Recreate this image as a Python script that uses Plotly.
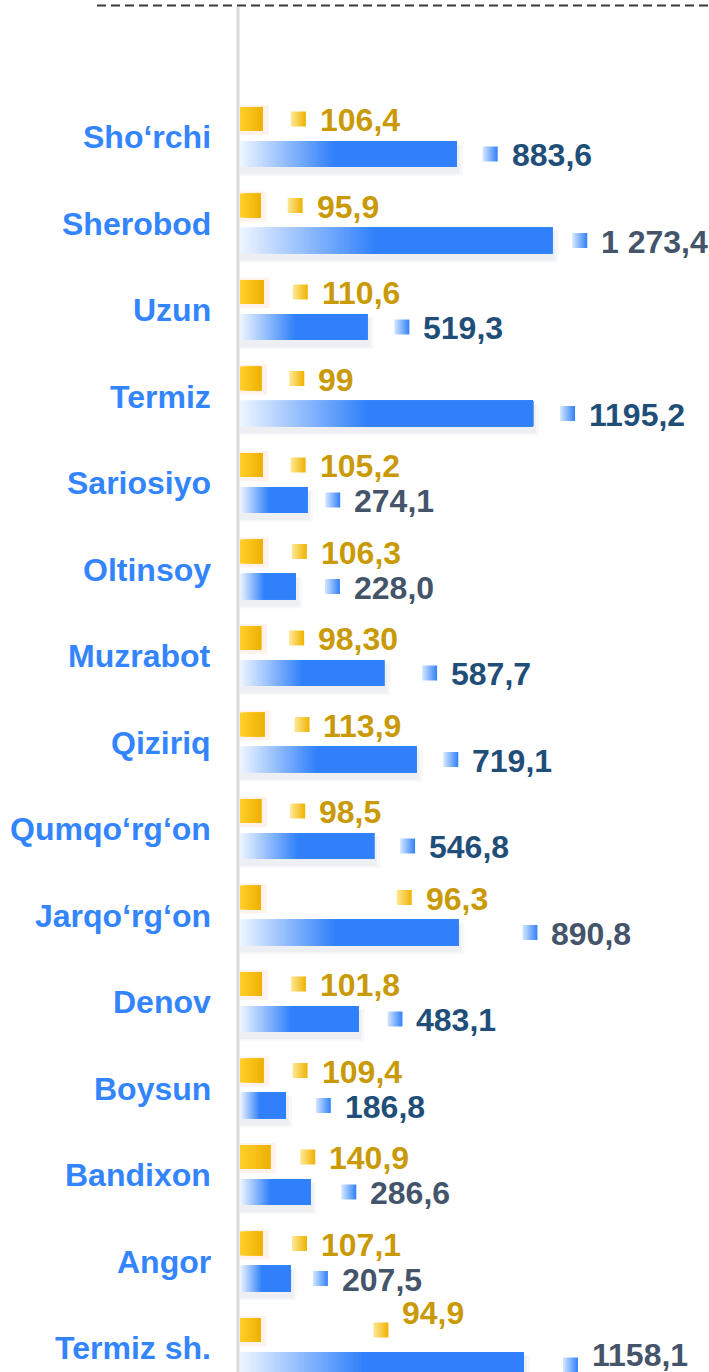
import plotly.graph_objects as go

# ---------------- data ----------------
districts = ["Sho‘rchi", "Sherobod", "Uzun", "Termiz", "Sariosiyo", "Oltinsoy",
             "Muzrabot", "Qiziriq", "Qumqo‘rg‘on", "Jarqo‘rg‘on", "Denov",
             "Boysun", "Bandixon", "Angor", "Termiz sh."]
volume = [883.6, 1273.4, 519.3, 1195.2, 274.1, 228.0, 587.7, 719.1, 546.8,
          890.8, 483.1, 186.8, 286.6, 207.5, 1158.1]
volume_labels = ["883,6", "1 273,4", "519,3", "1195,2", "274,1", "228,0", "587,7",
                 "719,1", "546,8", "890,8", "483,1", "186,8", "286,6", "207,5", "1158,1"]
growth = [106.4, 95.9, 110.6, 99, 105.2, 106.3, 98.30, 113.9, 98.5, 96.3,
          101.8, 109.4, 140.9, 107.1, 94.9]
growth_labels = ["106,4", "95,9", "110,6", "99", "105,2", "106,3", "98,30", "113,9",
                 "98,5", "96,3", "101,8", "109,4", "140,9", "107,1", "94,9"]

# ---------------- layout / style ----------------
W, H = 709, 1372
L = 238
PW = W - L
ROW = 86.5          # px per category
Y0 = 137            # px of first category centre
BLUE_SCALE = 0.2452  # px per unit (volume axis)
YEL_SCALE = 0.215    # px per unit (growth axis)
ZERO = 2             # px from plot left to zero

# label placement nudges (pixels from bar end to legend-key)
blue_gap = [26, 20, 27, 27, 18, 29, 38, 27, 26, 64, 29, 30, 31, 22, 39]
yel_gap = [28, 27, 29, 28, 28, 29, 28, 30, 29, 136, 29, 29, 30, 29, 113]
blue_dy = [0] * 14 + [11]
yel_dy = [0] * 14 + [18]
NAVY, SLATE = "#1F4E79", "#44546A"
blue_label_color = [NAVY, SLATE, NAVY, NAVY, SLATE, SLATE, NAVY, NAVY, NAVY,
                    SLATE, NAVY, NAVY, SLATE, SLATE, SLATE]
CAT_COLOR = "#3385FF"
GOLD = "#C99A06"
FONT = "Liberation Sans, Arial, sans-serif"
FS = 32

yi = list(range(len(districts)))
xr_blue = [-ZERO / BLUE_SCALE, (PW - ZERO) / BLUE_SCALE]
xr_yel = [-ZERO / YEL_SCALE, (PW - ZERO) / YEL_SCALE]

Y_OFF, Y_W = -30 / ROW, 24 / ROW
B_OFF, B_W = 4 / ROW, 26 / ROW


def lerp(c0, c1, t):
    return "rgb(%d,%d,%d)" % tuple(round(a + (b - a) * t) for a, b in zip(c0, c1))


fig = go.Figure()


def gradient_bars(values, xaxis, offset, width, c0, c1, frac, n):
    for k in range(n + 1):
        t = k / n
        base = [v * frac * t for v in values]
        fig.add_trace(go.Bar(
            y=yi, x=[v - b for v, b in zip(values, base)], base=base,
            orientation="h", xaxis=xaxis, offset=offset, width=width,
            marker=dict(color=lerp(c0, c1, t), line=dict(width=0)),
            showlegend=False, hoverinfo="skip"))


# shadows / glow
fig.add_trace(go.Bar(y=yi, x=[v + 6 / BLUE_SCALE for v in volume], orientation="h",
                     offset=B_OFF + 3 / ROW, width=B_W + 6 / ROW,
                     marker=dict(color="rgba(90,110,140,0.05)", line=dict(width=0)),
                     showlegend=False, hoverinfo="skip"))
fig.add_trace(go.Bar(y=yi, x=[v + 3 / BLUE_SCALE for v in volume], orientation="h",
                     offset=B_OFF + 4 / ROW, width=B_W + 3 / ROW,
                     marker=dict(color="rgba(90,110,140,0.06)", line=dict(width=0)),
                     showlegend=False, hoverinfo="skip"))
fig.add_trace(go.Bar(y=yi, x=[v + 6 / YEL_SCALE for v in growth], orientation="h",
                     xaxis="x2", offset=Y_OFF - 2 / ROW, width=Y_W + 6 / ROW,
                     marker=dict(color="rgba(255,130,80,0.10)", line=dict(width=0)),
                     showlegend=False, hoverinfo="skip"))

gradient_bars(volume, "x", B_OFF, B_W, (236, 244, 255), (47, 128, 250), 0.43, 40)
gradient_bars(growth, "x2", Y_OFF, Y_W, (255, 206, 40), (236, 174, 0), 1.0, 8)

# legend-key squares next to labels
fig.add_trace(go.Scatter(
    y=[i + B_OFF + B_W / 2 for i in yi],
    x=[v + (g + 7.5) / BLUE_SCALE for v, g in zip(volume, blue_gap)],
    mode="markers", xaxis="x",
    marker=dict(symbol="square", size=15, color="rgb(215,232,255)",
                gradient=dict(type="horizontal", color="rgb(47,128,250)"),
                line=dict(width=0)),
    showlegend=False, hoverinfo="skip"))
fig.add_trace(go.Scatter(
    y=[i + Y_OFF + Y_W / 2 for i in yi],
    x=[v + (g + 7.5) / YEL_SCALE for v, g in zip(growth, yel_gap)],
    mode="markers", xaxis="x2",
    marker=dict(symbol="square", size=15, color="rgb(255,232,150)",
                gradient=dict(type="horizontal", color="rgb(240,178,0)"),
                line=dict(width=0)),
    showlegend=False, hoverinfo="skip"))

ann = []
for i in yi:
    ann.append(dict(x=-25 / PW, xref="paper", y=i, yref="y", text=districts[i],
                    xanchor="right", yanchor="middle", showarrow=False,
                    font=dict(family=FONT, size=FS, color=CAT_COLOR, weight="bold")))
    ann.append(dict(x=volume[i], xref="x", y=i + B_OFF + B_W / 2, yref="y",
                    text=volume_labels[i], xanchor="left", yanchor="middle",
                    xshift=blue_gap[i] + 27, yshift=-1 + blue_dy[i], showarrow=False,
                    font=dict(family=FONT, size=FS, color=blue_label_color[i], weight="bold")))
    ann.append(dict(x=growth[i], xref="x2", y=i + Y_OFF + Y_W / 2, yref="y",
                    text=growth_labels[i], xanchor="left", yanchor="middle",
                    xshift=yel_gap[i] + 27, yshift=-1 + yel_dy[i], showarrow=False,
                    font=dict(family=FONT, size=FS, color=GOLD, weight="bold")))

shapes = [
    dict(type="line", xref="paper", yref="paper", x0=0, x1=0, y0=0,
         y1=1 - 7 / H, line=dict(color="#D9D9D9", width=3)),
    dict(type="line", xref="paper", yref="paper", x0=(97 - L) / PW, x1=1.0,
         y0=1 - 5.5 / H, y1=1 - 5.5 / H,
         line=dict(color="#3A3A3A", width=2, dash="9px,5px")),
]

fig.update_layout(
    width=W, height=H,
    margin=dict(l=L, r=0, t=0, b=0, pad=0),
    paper_bgcolor="white", plot_bgcolor="white",
    barmode="overlay",
    showlegend=False,
    xaxis=dict(range=xr_blue, visible=False, fixedrange=True),
    xaxis2=dict(range=xr_yel, visible=False, overlaying="x", fixedrange=True),
    yaxis=dict(range=[(H - Y0) / ROW, -Y0 / ROW], visible=False, fixedrange=True),
    annotations=ann,
    shapes=shapes,
)

fig.write_html(
    "out.html",
    config={"displayModeBar": False},
    post_script="document.body.style.margin='0';document.body.style.padding='0';"
                "document.documentElement.style.overflow='hidden';",
)
